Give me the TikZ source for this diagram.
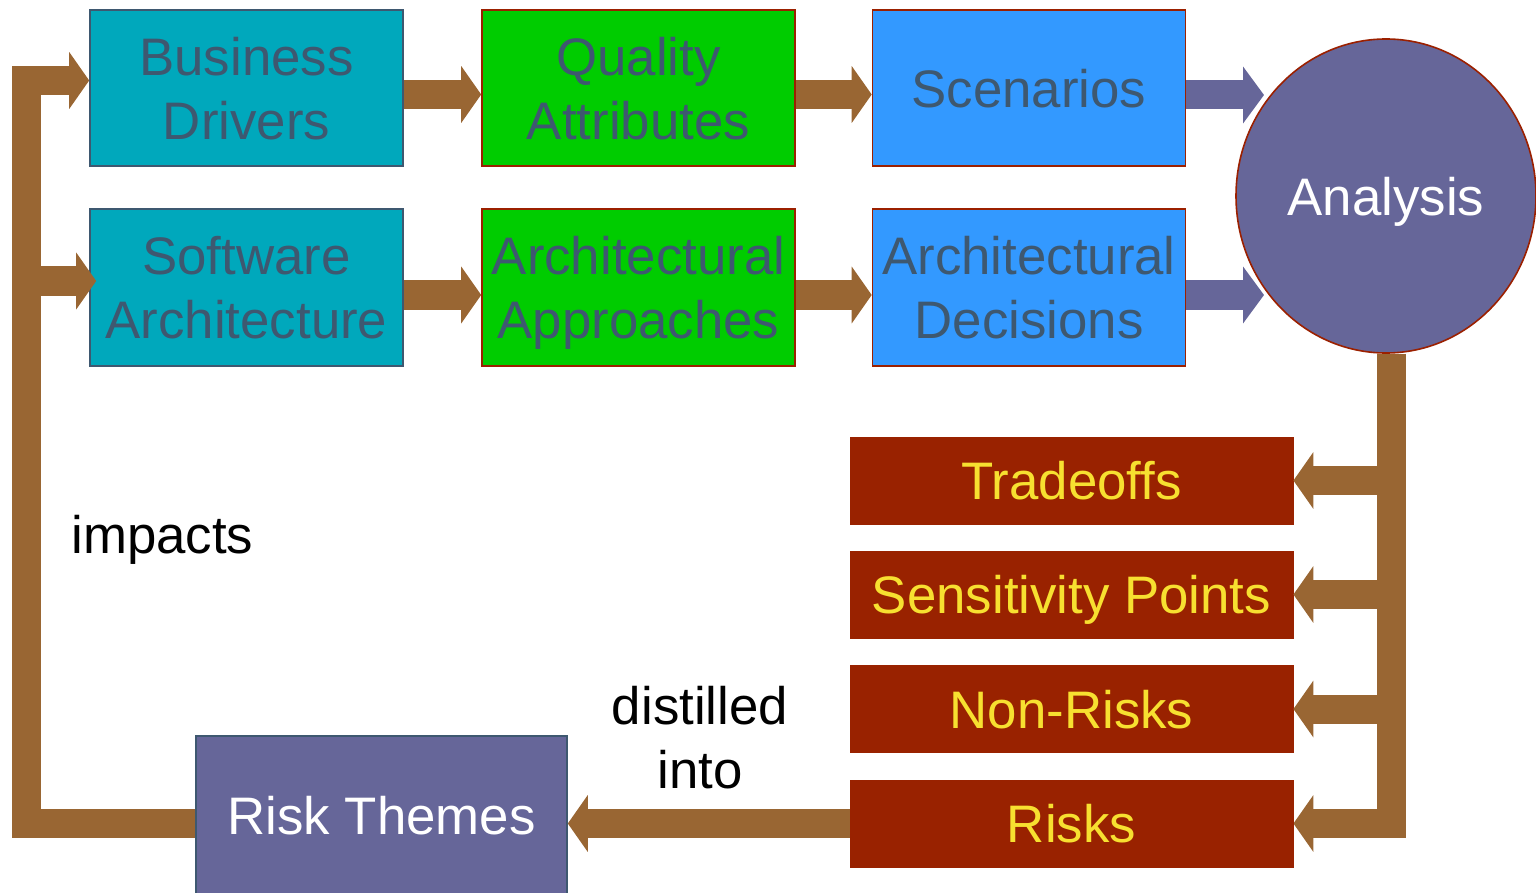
\documentclass[tikz,border=0pt]{standalone}
\usepackage{fontspec}
\setmainfont{Liberation Sans}
\usetikzlibrary{arrows.meta,shapes.geometric,calc}
\pgfdeclarelayer{bg}
\pgfsetlayers{bg,main}
\definecolor{cTeal}{HTML}{00A8BC}
\definecolor{cGreen}{HTML}{00CC00}
\definecolor{cBlue}{HTML}{3399FF}
\definecolor{cSlate}{HTML}{3E5870}
\definecolor{cBorder}{HTML}{9B2000}
\definecolor{cRed}{HTML}{992200}
\definecolor{cYellow}{RGB}{247,224,48}
\definecolor{cBrown}{HTML}{996633}
\definecolor{cPurple}{HTML}{666699}
\begin{document}
\begin{tikzpicture}[x=0.5pt,y=-0.5pt,
  bigfont/.style={font=\fontsize{26.4}{32}\selectfont},
  box/.style={bigfont, minimum width=156.5pt, minimum height=78pt, inner sep=0pt, align=center, text=cSlate, line width=0.8pt, text depth=0pt},
  tealbox/.style={box, fill=cTeal, draw=cSlate},
  greenbox/.style={box, fill=cGreen, draw=cBorder},
  bluebox/.style={box, fill=cBlue, draw=cBorder},
  redbox/.style={bigfont, minimum width=221.5pt, minimum height=43.5pt, inner sep=0pt, fill=cRed, draw=cRed, text=cYellow, text depth=0pt},
  brownarrow/.style={draw=cBrown, line width=14.5pt, line join=miter, -{Triangle[length=10pt,width=28pt]}},
  brownbar/.style={draw=cBrown, line width=14.5pt, line join=miter},
  purplearrow/.style={draw=cPurple, line width=14.5pt, -{Triangle[length=10.5pt,width=28pt]}},
  plaintext/.style={bigfont, text=black, inner sep=0pt}
]
\useasboundingbox (0,0) rectangle (1536,893);
\clip (0,0) rectangle (1536,893);

% top row
\node[tealbox]  (BD)   at (246.5,88)  {Business\\Drivers};
\node[greenbox] (QA)   at (638.5,88)  {Quality\\Attributes};
\node[bluebox]  (Scen) at (1029,88)   {Scenarios};
% second row
\node[tealbox, minimum height=78.5pt]  (SA) at (246.5,287.5) {Software\\Architecture};
\node[greenbox, minimum height=78.5pt] (AA) at (638.5,287.5) {Architectural\\Approaches};
\node[bluebox, minimum height=78.5pt]  (AD) at (1029,287.5)  {Architectural\\Decisions};

% analysis
\node[ellipse, minimum width=150pt, minimum height=157pt, inner sep=0pt, fill=cPurple, draw=cBorder, line width=0.8pt, text=white, bigfont, text depth=0pt] (An) at (1386,196) {Analysis};

% outputs
\node[redbox] (TO) at (1071.5,480.5) {Tradeoffs};
\node[redbox] (SP) at (1071.5,594.5) {Sensitivity Points};
\node[redbox] (NR) at (1071.5,709)   {Non-Risks};
\node[redbox] (RK) at (1071.5,823.5) {Risks};

% risk themes
\node[bigfont, minimum width=185.5pt, minimum height=90pt, inner sep=0pt, fill=cPurple, draw=cSlate, line width=0.8pt, text=white, text depth=0pt] (RT) at (381.5,826) {};
\node[bigfont, text=white, inner sep=0pt] (RTt) at (381.5,816) {Risk Themes};

% labels
\node[plaintext, anchor=base west] (imp) at (71,553) {impacts};
\node[plaintext, align=center] (dist) at (700,737.5) {distilled\\into};

% helper coordinates
\coordinate (fbx) at (26.5,0);
\coordinate (bar) at (1391.5,0);
\coordinate (t1) at (1264,95);
\coordinate (t2) at (1264,295);

% connectors
\draw[brownarrow] ([yshift=-3.25pt]BD.east) -- ([yshift=-3.25pt]QA.west);
\draw[brownarrow] ([yshift=-3.25pt]QA.east) -- ([yshift=-3.25pt]Scen.west);
\draw[brownarrow] ([yshift=-3.75pt]SA.east) -- ([yshift=-3.75pt]AA.west);
\draw[brownarrow] ([yshift=-3.75pt]AA.east) -- ([yshift=-3.75pt]AD.west);

\draw[purplearrow] ([yshift=-3.5pt]Scen.east) -- (t1);
\draw[purplearrow] ([yshift=-3.75pt]AD.east) -- (t2);

\begin{pgfonlayer}{bg}
\draw[brownarrow] (An.south -| bar) -- (RK.east -| bar) -- (RK.east);
\end{pgfonlayer}
\draw[brownarrow] (TO.east -| bar) -- (TO.east);
\draw[brownarrow] (SP.east -| bar) -- (SP.east);
\draw[brownarrow] (NR.east -| bar) -- (NR.east);

\draw[brownarrow] (RK.west) -- (RK.west -| RT.east);

\begin{pgfonlayer}{bg}
\draw[brownarrow] (RK.west -| RT.west) -| ([yshift=3.75pt]BD.west -| fbx) -- ([yshift=3.75pt]BD.west);
\end{pgfonlayer}
\draw[brownarrow] ([yshift=3.25pt]SA.west -| fbx) -- ([xshift=3.5pt,yshift=3.25pt]SA.west);
\end{tikzpicture}
\end{document}
